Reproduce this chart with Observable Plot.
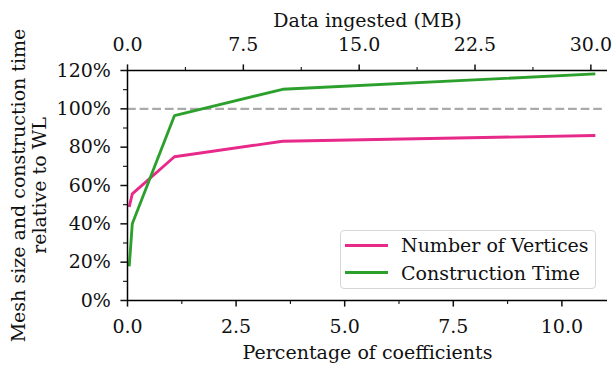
<!DOCTYPE html>
<html>
<head>
<meta charset="utf-8">
<script src="https://cdn.jsdelivr.net/npm/d3@7"></script>
<script src="https://cdn.jsdelivr.net/npm/@observablehq/plot@0.6"></script>
<style>
  html, body { margin: 0; padding: 0; background: #fff; }
  #wrap { position: relative; width: 613px; height: 365px; font-family: "DejaVu Serif", serif; }
  #legend { position: absolute; left: 340px; top: 230px; width: 254px; height: 57px;
    border: 1.3px solid #d6d6d6; border-radius: 4px; background: rgba(255,255,255,0.85);
    font-size: 19px; color: #111; }
  .item { position: absolute; left: 4px; height: 22px; display: flex; align-items: center; white-space: nowrap; }
  .swatch { width: 43px; height: 3px; margin-right: 13px; }
</style>
</head>
<body>
<div id="wrap"></div>
<script>
// ---- data ----
const xPct = [0.04, 0.11, 1.08, 3.57, 10.77];            // percentage of coefficients
const numberOfVertices = [48.8, 55.6, 75.0, 83.1, 86.1]; // % relative to WL
const constructionTime = [17.8, 40.0, 96.4, 110.2, 118.2];
const seriesNames = ["Number of Vertices", "Construction Time"];
const seriesColors = ["#e7298a", "#2ca02c"];
const referenceLevel = [100];
const xTicks = [0, 2.5, 5, 7.5, 10];
const xMinorTicks = [1.25, 3.75, 6.25, 8.75];
const yTicks = [0, 20, 40, 60, 80, 100, 120];
const yMinorTicks = [10, 30, 50, 70, 90, 110];
const mbTicks = [0, 7.5, 15, 22.5, 30];
const mbMinorTicks = [3.75, 11.25, 18.75, 26.25];
const pctPerMB = 10.667 / 30;   // top axis: MB mapped onto percentage
const xDomain = [0, 11.05];
const yDomain = [0, 120];
const xLabel = "Percentage of coefficients";
const topLabel = "Data ingested (MB)";
const yLabel = "Mesh size and construction time\nrelative to WL";

const rows = [];
xPct.forEach((x, i) => {
  rows.push({x, y: numberOfVertices[i], s: seriesNames[0]});
  rows.push({x, y: constructionTime[i], s: seriesNames[1]});
});

const blank = () => "";
const chart = Plot.plot({
  width: 613, height: 365,
  marginLeft: 127, marginRight: 6, marginTop: 70, marginBottom: 65,
  style: {fontFamily: "DejaVu Serif", fontSize: "19px", color: "#111", background: "white"},
  x: {domain: xDomain},
  y: {domain: yDomain},
  color: {domain: seriesNames, range: seriesColors},
  marks: [
    Plot.ruleY(referenceLevel, {x1: 0, x2: 10.93, stroke: "#aaaaaa", strokeWidth: 2.2, strokeDasharray: "8.8,3.8"}),
    Plot.line(rows, {x: "x", y: "y", stroke: "s", z: "s", strokeWidth: 2.85, strokeLinejoin: "miter", strokeLinecap: "butt"}),
    // bottom axis
    Plot.axisX({anchor: "bottom", ticks: xTicks, tickSize: 6.6, tickPadding: 12, tickFormat: d => d.toFixed(1), label: null, strokeWidth: 1.5, fill: "#111"}),
    Plot.axisX({anchor: "bottom", ticks: xMinorTicks, tickSize: 4, tickFormat: blank, label: null, strokeWidth: 1.1}),
    // top axis (MB)
    Plot.axisX({anchor: "top", ticks: mbTicks.map(m => m * pctPerMB), tickSize: 6.6, tickPadding: 12.5, tickFormat: d => (d / pctPerMB).toFixed(1), label: null, strokeWidth: 1.5, fill: "#111"}),
    Plot.axisX({anchor: "top", ticks: mbMinorTicks.map(m => m * pctPerMB), tickSize: 4, tickFormat: blank, label: null, strokeWidth: 1.1}),
    // left axis
    Plot.axisY({ticks: yTicks, tickSize: 6.6, tickPadding: 10, tickFormat: d => d + "%", label: null, strokeWidth: 1.5, fill: "#111"}),
    Plot.axisY({ticks: yMinorTicks, tickSize: 4, tickFormat: blank, label: null, strokeWidth: 1.1}),
    // spines
    Plot.ruleX([xDomain[0]], {stroke: "black", strokeWidth: 1.5}),
    Plot.ruleY(yDomain, {stroke: "black", strokeWidth: 1.5}),
    // axis titles
    Plot.text([xLabel], {frameAnchor: "bottom", lineAnchor: "bottom", dy: 58.3, fontSize: 19, fill: "#111"}),
    Plot.text([topLabel], {frameAnchor: "top", lineAnchor: "bottom", dy: -43.3, fontSize: 19, fill: "#111"}),
    Plot.text([yLabel], {frameAnchor: "left", textAnchor: "middle", lineAnchor: "middle", dx: -99, rotate: -90, lineHeight: 1.15, fontSize: 19, fill: "#111"})
  ]
});
const wrap = document.getElementById("wrap");
wrap.appendChild(chart);

const legend = document.createElement("div");
legend.id = "legend";
seriesNames.forEach((name, i) => {
  const item = document.createElement("div");
  item.className = "item";
  item.style.top = (3 + i * 27.7) + "px";
  const sw = document.createElement("span");
  sw.className = "swatch";
  sw.style.background = seriesColors[i];
  const t = document.createElement("span");
  t.textContent = name;
  item.appendChild(sw); item.appendChild(t);
  legend.appendChild(item);
});
wrap.appendChild(legend);
</script>
</body>
</html>
